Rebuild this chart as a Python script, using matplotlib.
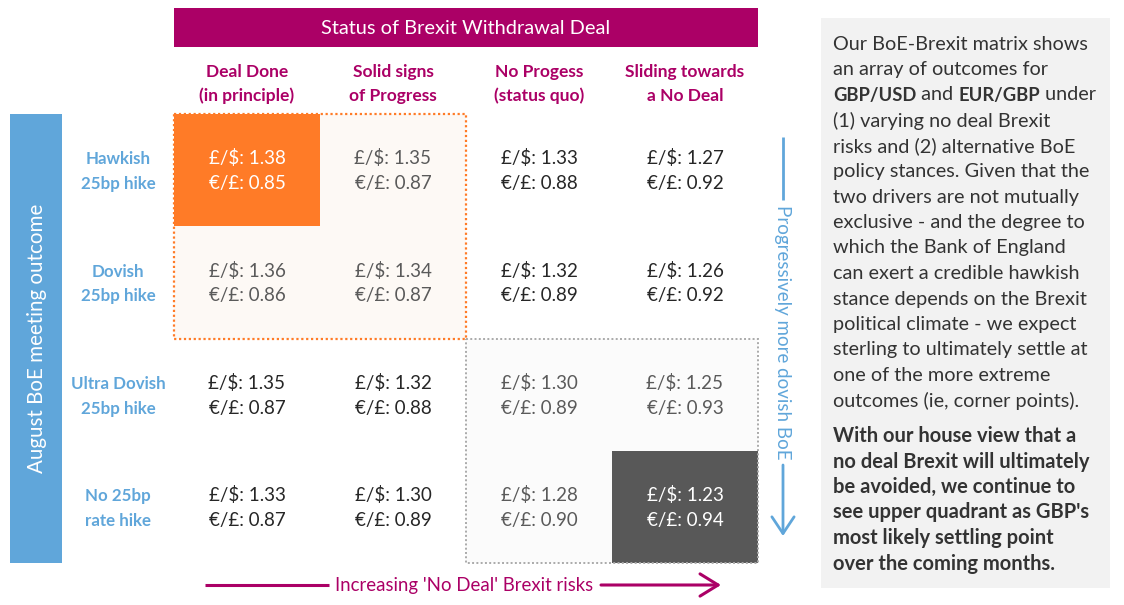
import matplotlib.pyplot as plt
from matplotlib.patches import Rectangle

# ---- data -----------------------------------------------------------------
col_labels = ['Deal Done\n(in principle)', 'Solid signs\nof Progress',
              'No Progess\n(status quo)', 'Sliding towards\na No Deal']
row_labels = ['Hawkish\n25bp hike', 'Dovish\n25bp hike',
              'Ultra Dovish\n25bp hike', 'No 25bp\nrate hike']
gbpusd = [[1.38, 1.35, 1.33, 1.27],
          [1.36, 1.34, 1.32, 1.26],
          [1.35, 1.32, 1.30, 1.25],
          [1.33, 1.30, 1.28, 1.23]]
eurgbp = [[0.85, 0.87, 0.88, 0.92],
          [0.86, 0.87, 0.89, 0.92],
          [0.87, 0.88, 0.89, 0.93],
          [0.87, 0.89, 0.90, 0.94]]

title = 'Status of Brexit Withdrawal Deal'
y_title = 'August BoE meeting outcome'
right_label = 'Progressively more dovish BoE'
bottom_label = "Increasing 'No Deal' Brexit risks"

note_lines = ['Our BoE-Brexit matrix shows',
              'an array of outcomes for',
              None,  # mixed bold line, built below
              '(1) varying no deal Brexit',
              'risks and (2) alternative BoE',
              'policy stances. Given that the',
              'two drivers are not mutually',
              'exclusive - and the degree to',
              'which the Bank of England',
              'can exert a credible hawkish',
              'stance depends on the Brexit',
              'political climate - we expect',
              'sterling to ultimately settle at',
              'one of the more extreme',
              'outcomes (ie, corner points).']
mixed_line = [('GBP/USD', 'bold'), (' and ', 'normal'),
              ('EUR/GBP', 'bold'), (' under', 'normal')]
bold_lines = ['With our house view that a',
              'no deal Brexit will ultimately',
              'be avoided, we continue to',
              "see upper quadrant as GBP's",
              'most likely settling point',
              'over the coming months.']

# ---- style ----------------------------------------------------------------
MAGENTA = '#AB0066'
ORANGE = '#FF7B27'
BLUE = '#60A6DA'
DARK = '#585858'
plt.rcParams['font.family'] = ['Lato', 'DejaVu Sans']

W, H = 1124, 605
fig = plt.figure(figsize=(W / 100, H / 100), dpi=100)

# overlay in pixel units for the decorations
deco = fig.add_axes([0, 0, 1, 1])
deco.set_xlim(0, W)
deco.set_ylim(H, 0)
deco.axis('off')

# matrix axes: one unit per cell
mx0, mx1, my0, my1 = 174, 758, 114, 563
ax = fig.add_axes([mx0 / W, (H - my1) / H, (mx1 - mx0) / W, (my1 - my0) / H])
ax.set_xlim(0, 4)
ax.set_ylim(4, 0)
ax.axis('off')
ax.patch.set_visible(False)

nrows, ncols = len(row_labels), len(col_labels)
for i in range(nrows):
    for j in range(ncols):
        if (i, j) == (0, 0):
            fc, tc = ORANGE, 'white'
        elif (i, j) == (nrows - 1, ncols - 1):
            fc, tc = DARK, 'white'
        elif i < 2 and j < 2:
            fc, tc = '#FDF9F5', '#5A5A5A'
        elif i >= 2 and j >= 2:
            fc, tc = '#FBFBFB', '#5A5A5A'
        else:
            fc, tc = 'white', '#262626'
        ax.add_patch(Rectangle((j, i), 1, 1, facecolor=fc, edgecolor='none'))
        ax.text(j + 0.5, i + 0.395, f'£/$: {gbpusd[i][j]:.2f}', color=tc,
                fontsize=13.5, ha='center', va='center')
        ax.text(j + 0.5, i + 0.62, f'€/£: {eurgbp[i][j]:.2f}', color=tc,
                fontsize=13.5, ha='center', va='center')

# dotted quadrant outlines
ax.add_patch(Rectangle((0, 0), 2, 2, fill=False, edgecolor=ORANGE,
                       linestyle=(0, (1, 1.2)), lw=1.6, clip_on=False))
ax.add_patch(Rectangle((2, 2), 2, 2, fill=False, edgecolor='#AAAAAA',
                       linestyle=(0, (1, 1.2)), lw=1.4, clip_on=False))

# column and row headers
for j, lab in enumerate(col_labels):
    for k, line in enumerate(lab.split('\n')):
        ax.text(j + 0.5, -0.375 + k * 0.214, line, color=MAGENTA,
                fontsize=12.5, fontweight='bold', ha='center', va='center',
                clip_on=False)
for i, lab in enumerate(row_labels):
    for k, line in enumerate(lab.split('\n')):
        ax.text(-0.384, i + 0.405 + k * 0.22, line, color=BLUE,
                fontsize=12.2, fontweight='bold', ha='center', va='center',
                clip_on=False)

# header bar
deco.add_patch(Rectangle((174, 8), 584, 39, facecolor=MAGENTA, edgecolor='none'))
deco.text(466, 28, title, color='white', fontsize=14.4, ha='center', va='center')

# left blue bar
deco.add_patch(Rectangle((10, 114), 52, 449, facecolor=BLUE, edgecolor='none'))
deco.text(37, 338, y_title, color='white', fontsize=14.8, rotation=90,
          ha='center', va='center')

# right vertical arrow
deco.plot([783, 783], [137, 200], color=BLUE, lw=2, solid_capstyle='butt')
deco.text(783, 332, right_label, color=BLUE, fontsize=13.5, rotation=270,
          ha='center', va='center')
deco.annotate('', xy=(783, 536), xytext=(783, 465),
              arrowprops=dict(arrowstyle='->,head_length=0.6,head_width=0.4',
                              color=BLUE, lw=2, mutation_scale=20,
                              shrinkA=0, shrinkB=0))

# bottom arrow
deco.plot([205, 329], [585, 585], color=MAGENTA, lw=2.2, solid_capstyle='butt')
deco.text(464, 585, bottom_label, color=MAGENTA, fontsize=13.4,
          ha='center', va='center')
deco.annotate('', xy=(721, 585), xytext=(601, 585),
              arrowprops=dict(arrowstyle='->,head_length=0.65,head_width=0.4',
                              color=MAGENTA, lw=2.2, mutation_scale=20,
                              shrinkA=0, shrinkB=0))

# commentary box
deco.add_patch(Rectangle((821, 18), 289, 570, facecolor='#F2F2F2', edgecolor='none'))
tx, step = 833, 25.5
renderer = fig.canvas.get_renderer()
for k, line in enumerate(note_lines):
    y = 44 + k * step
    if line is None:
        x = tx
        for seg, wt in mixed_line:
            t = deco.text(x, y, seg, color='#333333',
                          fontsize=13.2 if wt == 'bold' else 14.3,
                          fontweight=wt, ha='left', va='center')
            x += t.get_window_extent(renderer).width
        continue
    deco.text(tx, y, line, color='#333333', fontsize=14.3, ha='left', va='center')
for k, line in enumerate(bold_lines):
    deco.text(tx, 436 + k * step, line, color='#333333', fontsize=14.5,
              fontweight='bold', ha='left', va='center')

fig.savefig('out.png', dpi=100)
